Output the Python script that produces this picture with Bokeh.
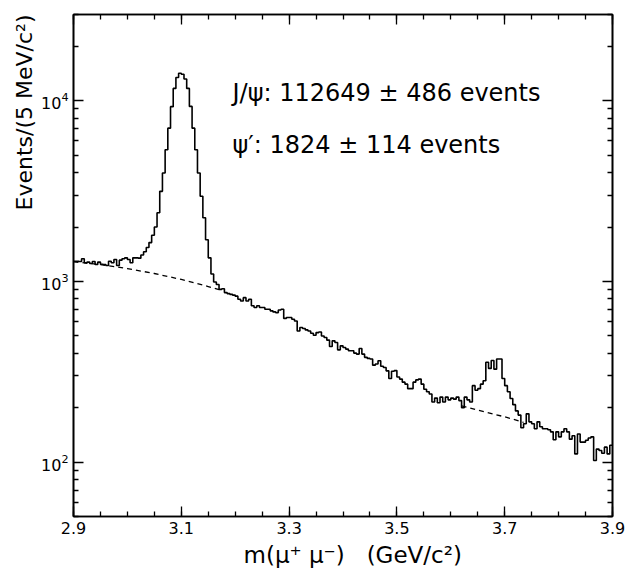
import numpy as np
from bokeh.plotting import figure
from bokeh.models import LinearAxis, LogAxis, FixedTicker, CustomJSTickFormatter, Label, Title
from bokeh.embed import file_html
from bokeh.resources import INLINE

# ---------------- data ----------------
mass_start = 2.9          # GeV/c^2, first bin edge
bin_width = 0.005         # 5 MeV bins

counts = [
    # 2.900 - 2.995
    1294, 1294, 1290, 1334, 1268, 1279, 1257, 1290, 1241, 1279,
    1245, 1241, 1225, 1294, 1268, 1322, 1225, 1311, 1334, 1350,
    # 3.000 - 3.095
    1322, 1268, 1350, 1350, 1345, 1400, 1460, 1540, 1640, 1800,
    2000, 2400, 3150, 3980, 5350, 7050, 9270, 11700, 13450, 14200,
    # 3.100 - 3.195
    14000, 13200, 11700, 9300, 7050, 5350, 3980, 2960, 2250, 1700,
    1350, 1100, 993, 962, 903, 911, 867, 856, 848, 840,
    # 3.200 - 3.295
    829, 796, 779, 813, 779, 796, 733, 717, 733, 717,
    717, 701, 701, 687, 678, 672, 695, 701, 624, 631,
    # 3.300 - 3.395
    631, 617, 604, 532, 556, 549, 539, 532, 517, 504,
    521, 525, 499, 489, 473, 436, 469, 459, 418, 440,
    # 3.400 - 3.495
    431, 422, 413, 413, 401, 396, 425, 396, 380, 375,
    372, 344, 349, 364, 339, 334, 320, 290, 318, 321,
    # 3.500 - 3.595
    296, 288, 277, 270, 255, 255, 277, 285, 288, 270,
    253, 245, 238, 215, 226, 213, 229, 215, 229, 221,
    # 3.600 - 3.695
    226, 223, 229, 219, 200, 229, 221, 215, 265, 250,
    255, 270, 282, 357, 330, 365, 327, 372, 372, 290,
    # 3.700 - 3.795
    265, 245, 225, 208, 192, 182, 155, 163, 185, 167,
    163, 153, 167, 157, 153, 153, 151, 147, 133, 147,
    # 3.800 - 3.895
    138, 147, 153, 147, 134, 140, 111, 143, 129, 129,
    132, 136, 138, 102, 118, 116, 112, 121, 111, 124,
]

# background fit curves (dashed)
bg1_mass = [2.90, 2.95, 3.00, 3.05, 3.10, 3.15, 3.17]
bg1_val = [1285, 1238, 1178, 1106, 1025, 937, 900]
bg2_mass = [3.62, 3.65, 3.70, 3.735]
bg2_val = [205, 194, 178, 166]

x_major = [2.9, 3.1, 3.3, 3.5, 3.7, 3.9]
y_major = [100, 1000, 10000]

jpsi_text = "J/ψ: 112649 ± 486 events"
psip_text = "ψ′: 1824 ± 114 events"
x_label = "m(μ⁺ μ⁻)\u00a0\u00a0\u00a0(GeV/c²)"
y_label = "Events/(5 MeV/c²)"

# ---------------- figure ----------------
FONT = "DejaVu Sans"
X_RANGE = (2.9, 3.9)
Y_RANGE = (50, 30000)

p = figure(width=626, height=571, x_range=X_RANGE, y_range=Y_RANGE,
           y_axis_type="log", title=None,
           output_backend="svg", toolbar_location=None,
           min_border_left=73, min_border_right=14,
           min_border_top=14, min_border_bottom=54,
           background_fill_color="white", border_fill_color="white")
p.grid.visible = False
p.outline_line_color = "black"
p.outline_line_width = 1.6

edges = mass_start + bin_width * np.arange(len(counts) + 1)
step_y = list(counts) + [counts[-1]]
p.step(x=edges, y=step_y, mode="after", line_color="black", line_width=1.6)

p.line(bg1_mass, bg1_val, line_color="black", line_width=1.3, line_dash="5 4")
p.line(bg2_mass, bg2_val, line_color="black", line_width=1.3, line_dash="5 4")

# ticks
x_minor = [round(v, 3) for v in np.arange(X_RANGE[0], X_RANGE[1] + 1e-9, 0.05)]
y_minor = [m * 10 ** e for e in range(1, 5) for m in range(2, 10)
           if Y_RANGE[0] <= m * 10 ** e <= Y_RANGE[1]]


def style_axis(ax, ticker):
    ax.ticker = ticker
    ax.major_tick_in = 10
    ax.major_tick_out = 0
    ax.minor_tick_in = 5
    ax.minor_tick_out = 0
    ax.major_tick_line_width = 1.3
    ax.minor_tick_line_width = 1.3
    ax.major_tick_line_color = "black"
    ax.minor_tick_line_color = "black"
    ax.axis_line_color = "black"
    ax.axis_line_width = 1.6
    ax.major_label_text_font = FONT
    ax.major_label_text_font_size = "16px"
    ax.major_label_text_color = "black"
    ax.major_label_standoff = 5


style_axis(p.xaxis[0], FixedTicker(ticks=x_major, minor_ticks=x_minor))
style_axis(p.yaxis[0], FixedTicker(ticks=y_major, minor_ticks=y_minor))

top = LinearAxis()
style_axis(top, FixedTicker(ticks=x_major, minor_ticks=x_minor))
top.formatter = CustomJSTickFormatter(code="return ''")
top.major_label_text_font_size = "1px"
top.major_label_standoff = 0
p.add_layout(top, "above")

right = LogAxis()
style_axis(right, FixedTicker(ticks=y_major, minor_ticks=y_minor))
right.formatter = CustomJSTickFormatter(code="return ''")
right.major_label_text_font_size = "1px"
right.major_label_standoff = 0
p.add_layout(right, "right")

# in-plot annotations
p.add_layout(Label(x=159, y=424, x_units="screen", y_units="screen",
                   text=jpsi_text, text_font=FONT, text_font_size="24px",
                   text_color="black", text_baseline="alphabetic"))
p.add_layout(Label(x=159, y=372, x_units="screen", y_units="screen",
                   text=psip_text, text_font=FONT, text_font_size="24px",
                   text_color="black", text_baseline="alphabetic"))

# axis titles
p.add_layout(Title(text=x_label, align="left", offset=170, standoff=7,
                   text_font=FONT, text_font_size="23px",
                   text_font_style="normal", text_color="black"), "below")
p.add_layout(Title(text=y_label, align="right", offset=0, standoff=4,
                   text_font=FONT, text_font_size="22px",
                   text_font_style="normal", text_color="black"), "left")

open("out.html", "w").write(file_html(p, INLINE))
